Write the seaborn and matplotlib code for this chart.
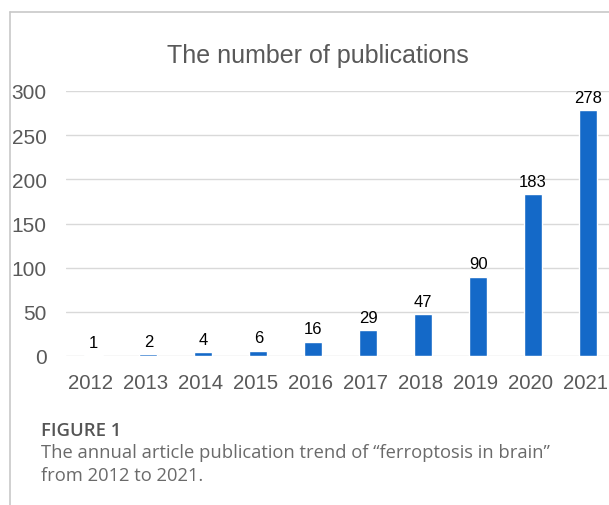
import matplotlib
matplotlib.use("Agg")
import matplotlib.pyplot as plt
from matplotlib.lines import Line2D
from matplotlib.transforms import ScaledTranslation
import seaborn as sns
import pandas as pd

years = ["2012", "2013", "2014", "2015", "2016", "2017", "2018", "2019", "2020", "2021"]
counts = [1, 2, 4, 6, 16, 29, 47, 90, 183, 278]
yticks = [0, 50, 100, 150, 200, 250, 300]
title = "The number of publications"
fig_label = "FIGURE 1"
caption = "The annual article publication trend of \u201cferroptosis in brain\u201d\nfrom 2012 to 2021."

sns.set_theme(style="white")
plt.rcParams['font.family'] = ['Liberation Sans', 'DejaVu Sans']

W, H = 609, 506
fig = plt.figure(figsize=(W / 100, H / 100), dpi=100)
fig.patch.set_facecolor("white")

# axes in pixel coordinates
left, right, top, bottom = 66, 609, 92, 357
ax = fig.add_axes([left / W, 1 - bottom / H, (right - left) / W, (bottom - top) / H])

df = pd.DataFrame({"year": years, "count": counts})
sns.barplot(data=df, x="year", y="count", color="#1469c8", saturation=1,
            width=0.33, ax=ax, zorder=3)

ax.set_xlim(-0.5, 9 + 21 / 55)
ax.set_ylim(0, 300)
ax.set_yticks(yticks)
ax.set_yticklabels([str(v) for v in yticks])
ax.set_xlabel("")
ax.set_ylabel("")
for s in ax.spines.values():
    s.set_visible(False)
ax.yaxis.grid(True, color="#d9d9d9", lw=1.0, zorder=0)
ax.set_axisbelow(True)
ax.tick_params(axis="y", length=0, pad=14, labelsize=15, labelcolor="#595959")
ax.tick_params(axis="x", length=0, pad=12, labelsize=14.7, labelcolor="#595959")
for lbl in ax.get_yticklabels():
    lbl.set_horizontalalignment("right")
shift = ScaledTranslation(-2.5 / 100, 0, fig.dpi_scale_trans)
for lbl in ax.get_xticklabels():
    lbl.set_transform(lbl.get_transform() + shift)

for i, v in enumerate(counts):
    ax.annotate(str(v), (i, v), xytext=(0, 4), textcoords="offset points",
                ha="center", va="bottom", fontsize=12, color="#000000",
                annotation_clip=False)

fig.text(317.5 / W, 1 - 63.5 / H, title, ha="center", va="baseline",
         fontsize=18, color="#595959")

# frame lines
fig.add_artist(Line2D([9.5 / W, 9.5 / W], [0, 1 - 12.5 / H], transform=fig.transFigure,
                      color="#c8c8c8", lw=1.2))
fig.add_artist(Line2D([9.5 / W, 1], [1 - 12.5 / H, 1 - 12.5 / H], transform=fig.transFigure,
                      color="#c8c8c8", lw=1.2))

fig.text(41 / W, 1 - 431 / H, fig_label, ha="left", va="center",
         fontsize=13.3, color="#555555", fontweight="semibold",
         family=["Open Sans", "DejaVu Sans"])
fig.text(41 / W, 1 - 444 / H, caption, ha="left", va="top",
         fontsize=13.2, color="#6a6a6a", linespacing=1.38,
         family=["Open Sans", "DejaVu Sans"])

fig.savefig("out.png", dpi=100, facecolor="white")
